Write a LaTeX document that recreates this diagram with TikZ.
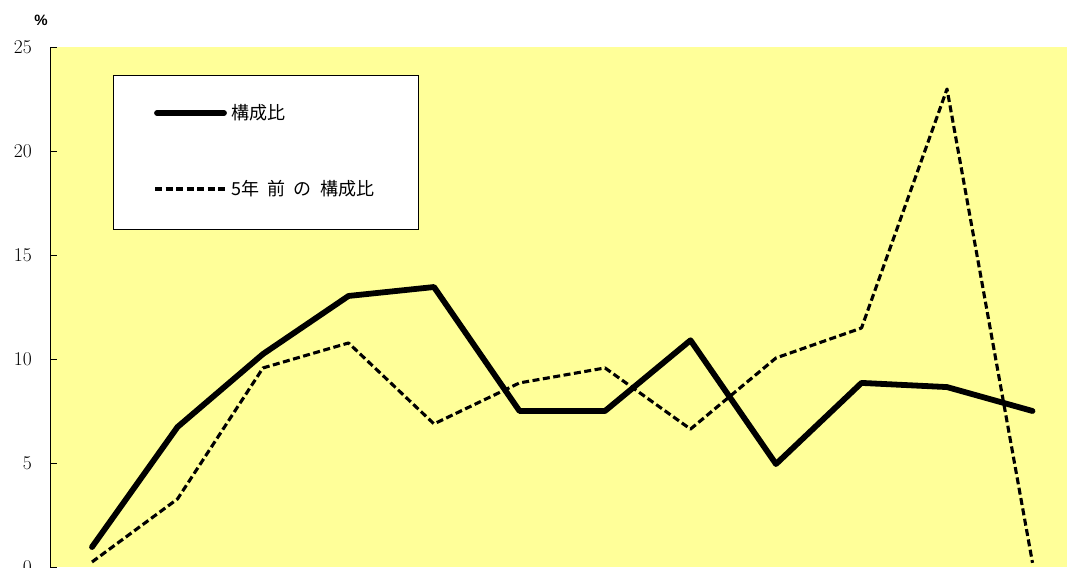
\documentclass[tikz,border=0pt]{standalone}
\usepackage{fontspec}
\newfontfamily\cjk{Noto Sans CJK JP}
\newfontfamily\unitfont{Liberation Sans}
\definecolor{plotbg}{HTML}{FFFF99}

\begin{document}
\begin{tikzpicture}[x=1pt,y=1pt,
  axis label/.style={anchor=east,inner sep=0,font=\fontsize{19.5}{19.5}\selectfont},
  legend text/.style={anchor=west,inner sep=0,font=\cjk\fontsize{18}{18}\selectfont},
  current/.style={line width=5.8pt,line cap=round,line join=round},
  previous/.style={line width=3.1pt,dash pattern=on 7pt off 3.5pt,line join=round}]
  \useasboundingbox (0,0) rectangle (1067,567);
  \fill[plotbg] (50,0) rectangle (1067,520);
  \draw[semithick] (50,0) -- (50,520);
  \foreach \v in {0,5,10,15,20,25} {
    \draw[semithick] (50,20.8*\v) -- ++(7,0);
    \node[axis label] (y\v) at (32,20.8*\v) {\v};
  }
  \node[inner sep=0,font=\unitfont\bfseries\fontsize{15}{15}\selectfont] (unit) at (41,547) {\%};
  % data
  \begin{scope}[shift={(92,0)},x=85.5pt,y=20.8pt]
    \draw[previous] plot coordinates {(0,0.24) (1,3.27) (2,9.57) (3,10.77) (4,6.88) (5,8.85) (6,9.57) (7,6.63) (8,10.05) (9,11.49) (10,22.98) (11,0.2)};
    \draw[current] plot coordinates {(0,0.96) (1,6.73) (2,10.24) (3,13.03) (4,13.46) (5,7.5) (6,7.5) (7,10.9) (8,4.95) (9,8.85) (10,8.65) (11,7.5)};
  \end{scope}
  % legend
  \node[draw,fill=white,thin,minimum width=305pt,minimum height=154pt,inner sep=0] (legend) at (265.5,415) {};
  \coordinate (cur a) at (157,454);
  \coordinate (cur b) at (224,454);
  \coordinate (prev a) at (155,378);
  \coordinate (prev b) at (226,378);
  \draw[current] (cur a) -- (cur b);
  \draw[previous] (prev a) -- (prev b);
  \node[legend text] (cur text) at (231,454) {構成比};
  \node[legend text] (prev text) at (231,378) {5年\hspace{8pt}前\hspace{8pt}の\hspace{9pt}構成比};
\end{tikzpicture}
\end{document}
